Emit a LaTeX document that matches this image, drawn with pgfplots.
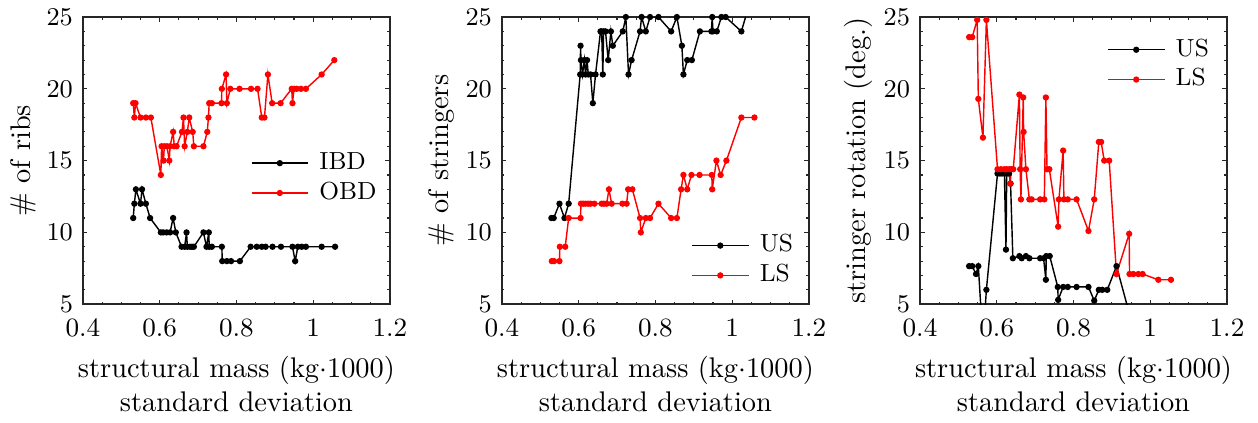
\documentclass[border=0pt]{standalone}
\usepackage{pgfplots}
\pgfplotsset{compat=1.18}
\definecolor{axgray}{gray}{0.15}
\pgfplotsset{
  myax/.style={
    scale only axis, width=108.1pt, height=101.1pt,
    xmin=0.4, xmax=1.2, ymin=5, ymax=25,
    xtick={0.4,0.6,0.8,1,1.2}, xticklabels={0.4,0.6,0.8,1,1.2},
    ytick={5,10,15,20,25},
    minor x tick num=3, minor y tick num=4,
    tick align=inside, xtick pos=both, ytick pos=both,
    axis line style={line width=0.8pt, color=axgray},
    major tick length=1.6pt, minor tick length=0.9pt,
    every tick/.style={color=axgray, line width=0.4pt},
    tick label style={font=\fontsize{9.3}{11}\selectfont},
    xticklabel style={yshift=-1.5pt},
    ylabel shift=-3pt,
    label style={font=\fontsize{10}{12}\selectfont},
    xlabel style={align=center},
    xlabel={structural mass (kg$\cdot$1000)\\standard deviation},
    clip=true,
    legend cell align=left,
    legend style={draw=none, fill=none, inner sep=0pt, row sep=0pt, column sep=2.5pt,
      font=\fontsize{8.7}{10}\selectfont,
      nodes={inner sep=1.2pt, text height=6.3pt, text depth=1.8pt}},
    legend image code/.code={\draw[#1, mark repeat=2, mark phase=2] plot coordinates {(0cm,0cm) (0.35cm,0cm) (0.7cm,0cm)};},
  },
  ser/.style={line width=0.5pt, mark=*, mark size=0.85pt},
}
\begin{document}
\begin{tikzpicture}
\begin{axis}[myax, at={(0pt,0pt)}, ylabel={\# of ribs},
  legend style={at={(0.545,0.545)}, anchor=north west}]
\addplot[ser, black] coordinates {(0.531,11)(0.534,12)(0.538,13)(0.550,12)(0.554,13)(0.564,12)(0.575,11)(0.603,10)(0.609,10)(0.618,10)(0.627,10)(0.635,11)(0.642,10)(0.657,9)(0.665,9)(0.670,10)(0.672,9)(0.679,9)(0.684,9)(0.689,9)(0.714,10)(0.722,9)(0.728,10)(0.729,9)(0.736,9)(0.762,9)(0.763,8)(0.775,8)(0.786,8)(0.809,8)(0.837,9)(0.853,9)(0.866,9)(0.876,9)(0.894,9)(0.916,9)(0.946,9)(0.953,8)(0.960,9)(0.970,9)(0.981,9)(1.022,9)(1.057,9)};
\addlegendentry{IBD}
\addplot[ser, red] coordinates {(0.531,19)(0.534,18)(0.537,19)(0.550,18)(0.564,18)(0.577,18)(0.603,14)(0.605,16)(0.610,15)(0.612,16)(0.619,16)(0.625,15)(0.627,16)(0.635,17)(0.638,16)(0.644,16)(0.658,17)(0.662,18)(0.665,16)(0.672,17)(0.677,18)(0.686,17)(0.689,16)(0.714,16)(0.724,17)(0.727,18)(0.729,19)(0.736,19)(0.761,19)(0.762,20)(0.773,21)(0.775,19)(0.784,20)(0.808,20)(0.838,20)(0.855,20)(0.866,18)(0.873,18)(0.882,21)(0.893,19)(0.915,19)(0.944,20)(0.946,19)(0.950,20)(0.957,20)(0.968,20)(0.981,20)(1.022,21)(1.055,22)};
\addlegendentry{OBD}
\end{axis}
\begin{axis}[myax, at={(147.5pt,0pt)}, ylabel={\# of stringers},
  legend style={at={(0.615,0.258)}, anchor=north west}]
\addplot[ser, black] coordinates {(0.529,11)(0.535,11)(0.550,12)(0.563,11)(0.574,12)(0.604,21)(0.605,23)(0.606,22)(0.610,21)(0.615,22)(0.618,21)(0.622,22)(0.625,21)(0.631,21)(0.637,19)(0.644,21)(0.657,24)(0.660,24)(0.663,21)(0.665,24)(0.670,24)(0.677,22)(0.684,24)(0.689,23)(0.715,24)(0.723,25)(0.730,21)(0.738,22)(0.760,24)(0.764,25)(0.775,24)(0.786,25)(0.808,25)(0.841,24)(0.856,25)(0.869,23)(0.873,21)(0.883,22)(0.895,22)(0.916,24)(0.946,24)(0.948,25)(0.950,24)(0.960,24)(0.972,25)(0.983,25)(1.024,24)(1.057,27)};
\addlegendentry{US}
\addplot[ser, red] coordinates {(0.530,8)(0.536,8)(0.550,8)(0.551,9)(0.565,9)(0.574,11)(0.605,11)(0.606,12)(0.612,12)(0.618,12)(0.625,12)(0.631,12)(0.641,12)(0.660,12)(0.666,12)(0.673,12)(0.679,13)(0.686,12)(0.714,12)(0.725,12)(0.729,13)(0.740,13)(0.760,11)(0.762,10)(0.775,11)(0.786,11)(0.808,12)(0.841,11)(0.856,11)(0.867,13)(0.873,14)(0.883,13)(0.894,14)(0.915,14)(0.947,14)(0.948,13)(0.959,15)(0.970,14)(0.985,15)(1.024,18)(1.058,18)};
\addlegendentry{LS}
\end{axis}
\begin{axis}[myax, at={(294.7pt,0pt)}, ylabel={stringer rotation (deg.)},
  legend style={at={(0.608,0.94)}, anchor=north west}]
\addplot[ser, black] coordinates {(0.528,7.65)(0.536,7.65)(0.546,7.1)(0.552,7.65)(0.564,2.4)(0.573,6.0)(0.602,14.1)(0.608,14.1)(0.614,14.1)(0.620,14.1)(0.624,8.8)(0.626,14.1)(0.632,14.1)(0.636,13.4)(0.642,8.2)(0.659,8.35)(0.665,8.2)(0.676,8.35)(0.685,8.2)(0.713,8.2)(0.722,8.2)(0.728,6.7)(0.729,8.35)(0.738,8.35)(0.759,6.2)(0.760,5.3)(0.773,6.2)(0.785,6.2)(0.808,6.2)(0.839,6.2)(0.854,5.25)(0.866,6.0)(0.875,6.0)(0.888,6.0)(0.912,7.65)(0.945,4.4)(0.956,4.0)(0.969,4.0)(0.980,4.0)(1.021,4.0)(1.054,4.0)};
\addlegendentry{US}
\addplot[ser, red] coordinates {(0.528,23.6)(0.536,23.6)(0.549,24.8)(0.552,19.3)(0.564,16.6)(0.573,24.8)(0.602,14.4)(0.611,14.4)(0.620,14.4)(0.626,14.4)(0.633,14.4)(0.635,13.4)(0.638,14.4)(0.643,14.4)(0.659,19.6)(0.661,14.4)(0.663,12.3)(0.669,19.4)(0.670,17.0)(0.676,14.4)(0.685,12.3)(0.691,12.3)(0.713,12.3)(0.724,12.3)(0.728,19.4)(0.731,14.4)(0.737,14.4)(0.760,10.4)(0.762,12.3)(0.773,15.7)(0.775,12.3)(0.785,12.3)(0.808,12.3)(0.839,10.1)(0.854,12.3)(0.866,16.3)(0.872,16.3)(0.880,15.0)(0.893,15.0)(0.912,7.1)(0.945,9.9)(0.946,7.1)(0.956,7.1)(0.969,7.1)(0.980,7.1)(1.021,6.7)(1.054,6.7)};
\addlegendentry{LS}
\end{axis}
\pgfresetboundingbox
\path[use as bounding box] (-29.2pt,-41.5pt) rectangle (413.7pt,107.1pt);
\end{tikzpicture}
\end{document}
